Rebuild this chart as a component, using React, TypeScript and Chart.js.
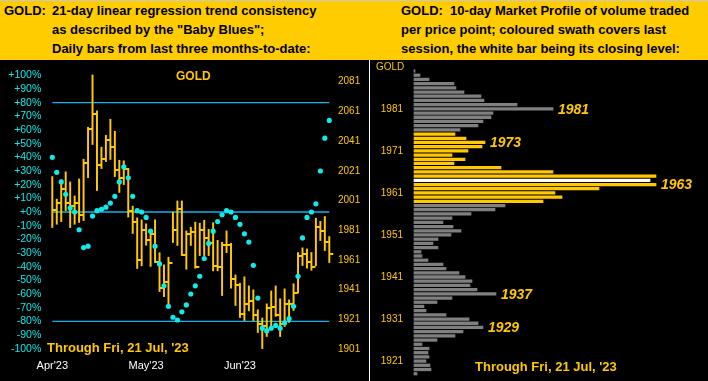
import React, { useEffect, useRef } from 'react';
import { Chart, registerables } from 'chart.js';

Chart.register(...registerables);

// ---------- Left panel data (daily HLC bars, last three months) ----------
const sessions = [
  '04-21', '04-24', '04-25', '04-26', '04-27', '04-28',
  '05-01', '05-02', '05-03', '05-04', '05-05', '05-08', '05-09', '05-10', '05-11', '05-12',
  '05-15', '05-16', '05-17', '05-18', '05-19', '05-22', '05-23', '05-24', '05-25', '05-26',
  '05-30', '05-31',
  '06-01', '06-02', '06-05', '06-06', '06-07', '06-08', '06-09', '06-12', '06-13', '06-14',
  '06-15', '06-16', '06-20', '06-21', '06-22', '06-23', '06-26', '06-27', '06-28', '06-29', '06-30',
  '07-03', '07-05', '07-06', '07-07', '07-10', '07-11', '07-12', '07-13', '07-14',
  '07-17', '07-18', '07-19', '07-20', '07-21',
];

const highs = [
  2017.1, 2001.9, 2014.9, 2020.3, 2013.5, 2004.1, 2015.5, 2028.8, 2050.3, 2085.5,
  2061.3, 2036.9, 2044.9, 2055.7, 2047.6, 2028.1, 2027.7, 2022.7, 1997.2, 1989.3,
  1988.0, 1985.3, 1981.2, 1988.0, 1965.8, 1957.7, 1962.8, 1993.1, 2000.7, 2000.7,
  1980.5, 1983.0, 1986.4, 1985.7, 1987.7, 1981.6, 1986.1, 1974.2, 1972.9, 1980.5,
  1972.2, 1950.9, 1945.3, 1949.6, 1943.5, 1940.8, 1927.4, 1921.9, 1931.4, 1940.1,
  1943.5, 1934.8, 1941.5, 1934.1, 1944.9, 1965.9, 1969.1, 1968.4, 1966.0, 1989.1,
  1987.0, 1990.2, 1976.7,
];

const lows = [
  1982.8, 1985.0, 1986.8, 1994.2, 1982.8, 1985.0, 1986.2, 1987.5, 2016.4, 2038.7,
  2007.7, 2022.5, 2027.2, 2028.6, 2017.1, 2006.4, 2011.7, 1989.8, 1978.8, 1955.2,
  1957.0, 1970.9, 1956.6, 1959.2, 1939.7, 1936.3, 1931.4, 1972.7, 1970.7, 1963.9,
  1954.7, 1970.7, 1955.4, 1963.9, 1963.9, 1963.9, 1953.6, 1953.6, 1937.0, 1965.9,
  1941.9, 1930.3, 1922.2, 1920.2, 1926.7, 1920.2, 1912.1, 1901.3, 1909.4, 1916.2,
  1922.9, 1909.4, 1916.2, 1918.9, 1926.9, 1938.6, 1957.2, 1955.4, 1954.0, 1957.0,
  1974.0, 1967.3, 1959.2,
];

const closes = [
  1994.7, 1999.6, 2008.6, 1999.6, 1997.6, 1999.6, 1991.5, 2026.5, 2049.2, 2059.1,
  2025.2, 2029.2, 2042.0, 2037.3, 2021.2, 2016.4, 2022.1, 1993.6, 1986.2, 1961.0,
  1980.8, 1974.1, 1978.1, 1959.7, 1942.4, 1946.4, 1959.2, 1981.2, 1995.6, 1964.6,
  1978.7, 1980.1, 1955.9, 1980.8, 1976.0, 1972.7, 1956.9, 1956.3, 1971.3, 1971.3,
  1948.4, 1944.4, 1924.9, 1931.0, 1933.6, 1924.2, 1917.5, 1916.8, 1928.3, 1929.6,
  1923.6, 1917.5, 1931.0, 1931.6, 1938.4, 1963.9, 1965.3, 1959.9, 1956.0, 1983.0,
  1980.7, 1972.9, 1964.8,
];

// "Baby Blues": 21-day linear regression trend consistency (%)
const babyBlues = [
  40, 29, 22, 13, 3, 0, -13, -26, -25, -3,
  1, 2, 3.5, 6.5, 11.5, 22, 33, 25, 11.5, 1,
  0, -4, -14, -25, -38, -54, -69, -77, -79, -73,
  -68, -60, -54, -47, -34, -23, -14, -7, -2, 1,
  0, -4, -9, -16, -22, -39, -63, -85, -87, -85,
  -83, -85, -81, -78, -69, -47, -19, -4, 0, 6,
  30, 54, 67,
];

const refLevels = [80, 0, -80];
const priceTicks = [1901, 1921, 1941, 1961, 1981, 2001, 2021, 2041, 2061, 2081];
const monthTickSessions = ['04-21', '05-22', '06-22'];
const monthTickText = ["Apr'23", "May'23", "Jun'23"];

// ---------- Right panel data (10-day market profile) ----------
const profilePrices = [
  1990, 1989, 1988, 1987, 1986, 1985, 1984, 1983, 1982, 1981,
  1980, 1979, 1978, 1977, 1976, 1975, 1974, 1973, 1972, 1971,
  1970, 1969, 1968, 1967, 1966, 1965, 1964, 1963, 1962, 1961,
  1960, 1959, 1958, 1957, 1956, 1955, 1954, 1953, 1952, 1951,
  1950, 1949, 1948, 1947, 1946, 1945, 1944, 1943, 1942, 1941,
  1940, 1939, 1938, 1937, 1936, 1935, 1934, 1933, 1932, 1931,
  1930, 1929, 1928, 1927, 1926, 1925, 1924, 1923, 1922, 1921,
  1920, 1919, 1918,
];
const profileVolume = [
  1, 6, 15, 40, 42, 50, 67, 70, 103, 139,
  79, 77, 69, 64, 46, 41, 52, 71, 68, 54,
  38, 51, 40, 87, 139, 242, 236, 242, 185, 141,
  148, 129, 91, 81, 57, 38, 29, 39, 47, 37,
  24, 19, 24, 7, 8, 14, 29, 32, 45, 51,
  58, 56, 63, 82, 38, 23, 10, 12, 32, 55,
  64, 69, 49, 41, 23, 8, 15, 14, 15, 12,
  16, 17, 3,
];
const swathLow = 1959;
const swathHigh = 1975;
const closeLevel = 1964;
const peakLevels = [1981, 1973, 1963, 1937, 1929];
const profileTicks = [1921, 1931, 1941, 1951, 1961, 1971, 1981];

// ---------- Styles ----------
const FONT = '"Liberation Sans", Arial, sans-serif';
const GOLD = '#FFC800';
const HEADER_GOLD = '#FFCC00';
const CYAN = '#10EAEA';
const LINE_BLUE = '#10B4F0';
const GREY = '#808080';

Chart.defaults.font.family = FONT;

const noGrid = { display: false, drawTicks: false, tickLength: 0 };

// Fix an axis' thickness and drop the label overhang padding so the chart area is exact.
const fixWidth = (w: number) => (s: any) => {
  s.width = w;
  s.paddingTop = 0;
  s.paddingBottom = 0;
};
const fixHeight = (h: number) => (s: any) => {
  s.height = h;
  s.paddingLeft = 0;
  s.paddingRight = 0;
};

function makeCloseTick(): HTMLCanvasElement {
  const c = document.createElement('canvas');
  c.width = 10;
  c.height = 2;
  const g = c.getContext('2d')!;
  g.fillStyle = GOLD;
  g.fillRect(5, 0, 4, 2);
  return c;
}

function LeftChart() {
  const ref = useRef<HTMLCanvasElement>(null);
  useEffect(() => {
    const tick = makeCloseTick();
    const chart = new Chart(ref.current!, {
      type: 'bar',
      data: {
        labels: sessions,
        datasets: [
          {
            type: 'line',
            data: babyBlues,
            yAxisID: 'yPct',
            showLine: false,
            pointRadius: 2.6,
            pointHoverRadius: 2.6,
            pointBackgroundColor: CYAN,
            pointBorderWidth: 0,
            clip: false,
            order: 0,
          } as any,
          {
            type: 'line',
            data: closes,
            yAxisID: 'yPrice',
            showLine: false,
            pointStyle: tick,
            pointRadius: 3,
            pointBorderWidth: 0,
            clip: false,
            order: 1,
          } as any,
          {
            type: 'bar',
            data: lows.map((l, i) => [l, highs[i]]),
            yAxisID: 'yPrice',
            backgroundColor: GOLD,
            barThickness: 1.3,
            clip: false,
            order: 2,
          } as any,
          ...refLevels.map(
            (v) =>
              ({
                type: 'line',
                data: sessions.map(() => v),
                yAxisID: 'yPct',
                borderColor: LINE_BLUE,
                borderWidth: 1.4,
                pointRadius: 0,
                clip: false,
                order: 3,
              } as any)
          ),
        ],
      },
      options: {
        responsive: false,
        animation: false,
        devicePixelRatio: 1,
        events: [],
        layout: { padding: { top: 15.3, bottom: 0, left: 0, right: 0 }, autoPadding: false },
        plugins: { legend: { display: false }, tooltip: { enabled: false } },
        scales: {
          x: {
            type: 'category',
            offset: false,
            grid: { ...noGrid, offset: false },
            border: { display: false },
            afterFit: fixHeight(32.3),
            ticks: {
              autoSkip: false,
              maxRotation: 0,
              minRotation: 0,
              padding: 10.4,
              color: '#FFFFFF',
              font: { size: 11 },
              callback: (_v: any, i: number) => {
                const k = monthTickSessions.indexOf(sessions[i]);
                return k >= 0 ? monthTickText[k] : '';
              },
            },
          },
          yPct: {
            position: 'left',
            min: -100,
            max: 100,
            grid: noGrid,
            border: { display: false },
            afterFit: fixWidth(52.3),
            ticks: {
              stepSize: 10,
              autoSkip: false,
              padding: 11,
              color: CYAN,
              font: { size: 10.5 },
              callback: (v: any) => (Number(v) >= 0 ? '+' : '') + v + '%',
            },
          },
          yPrice: {
            position: 'right',
            min: 1901.2,
            max: 2085.3,
            grid: noGrid,
            border: { display: false },
            afterFit: fixWidth(39.7),
            afterBuildTicks: (s: any) => {
              s.ticks = priceTicks.map((v) => ({ value: v }));
            },
            ticks: {
              autoSkip: false,
              padding: 8.7,
              color: GOLD,
              font: { size: 10 },
              callback: (v: any) => String(v),
            },
          },
        } as any,
      },
    });
    return () => chart.destroy();
  }, []);
  return <canvas ref={ref} width={369} height={321} style={{ display: 'block' }} />;
}

const peakLabelPlugin = {
  id: 'peakLabels',
  afterDatasetsDraw(chart: any) {
    const meta = chart.getDatasetMeta(0);
    const ctx = chart.ctx as CanvasRenderingContext2D;
    ctx.save();
    ctx.font = `italic bold 14px ${FONT}`;
    ctx.fillStyle = GOLD;
    ctx.textBaseline = 'middle';
    ctx.textAlign = 'left';
    peakLevels.forEach((p) => {
      const i = profilePrices.indexOf(p);
      const el = meta.data[i];
      if (el) ctx.fillText(String(p), el.x + 5, el.y + 1);
    });
    ctx.restore();
  },
};

function RightChart() {
  const ref = useRef<HTMLCanvasElement>(null);
  useEffect(() => {
    const chart = new Chart(ref.current!, {
      type: 'bar',
      data: {
        datasets: [
          {
            data: profilePrices.map((p, i) => ({ x: profileVolume[i], y: p })),
            backgroundColor: profilePrices.map((p) =>
              p === closeLevel ? '#FFFFFF' : p >= swathLow && p <= swathHigh ? GOLD : GREY
            ),
            barThickness: 2.6,
            clip: false,
          } as any,
        ],
      },
      options: {
        indexAxis: 'y',
        responsive: false,
        animation: false,
        devicePixelRatio: 1,
        events: [],
        layout: { padding: { top: 8.9, bottom: 5.2, left: 0, right: 0 }, autoPadding: false },
        plugins: { legend: { display: false }, tooltip: { enabled: false } },
        scales: {
          x: { type: 'linear', min: 0, max: 294, display: false, offset: false },
          y: {
            type: 'linear',
            min: 1917.5,
            max: 1990.5,
            offset: false,
            grid: { ...noGrid, offset: false },
            border: { display: false },
            afterFit: fixWidth(44),
            afterBuildTicks: (s: any) => {
              s.ticks = profileTicks.map((v) => ({ value: v }));
            },
            ticks: {
              autoSkip: false,
              padding: 11,
              color: GOLD,
              font: { size: 10 },
              callback: (v: any) => String(v),
            },
          },
        } as any,
      },
      plugins: [peakLabelPlugin],
    });
    return () => chart.destroy();
  }, []);
  return <canvas ref={ref} width={338} height={321} style={{ display: 'block' }} />;
}

const headerLine = (left: number, top: number): React.CSSProperties => ({
  position: 'absolute',
  left,
  top,
  fontFamily: FONT,
  fontWeight: 'bold',
  fontSize: 13,
  lineHeight: '13px',
  color: '#000',
  whiteSpace: 'pre',
});

const overlayText = (
  left: number,
  top: number,
  size: number,
  bold: boolean,
  lh: number
): React.CSSProperties => ({
  position: 'absolute',
  left,
  top,
  fontFamily: FONT,
  fontWeight: bold ? 'bold' : 'normal',
  fontSize: size,
  lineHeight: lh + 'px',
  color: GOLD,
  whiteSpace: 'pre',
});

export default function App() {
  const lineTops = [4.4, 23.4, 42.3];
  const leftLines = [
    '21-day linear regression trend consistency',
    'as described by the "Baby Blues";',
    'Daily bars from last three months-to-date:',
  ];
  const rightLines = [
    'GOLD:  10-day Market Profile of volume traded',
    'per price point; coloured swath covers last',
    'session, the white bar being its closing level:',
  ];
  return (
    <div
      style={{
        position: 'fixed',
        left: 0,
        top: 0,
        width: 708,
        height: 381,
        background: '#000',
        overflow: 'hidden',
        fontFamily: FONT,
      }}
    >
      <div style={{ position: 'absolute', left: 0, top: 0, width: 708, height: 60, background: HEADER_GOLD }} />
      <div style={{ position: 'absolute', left: 0, top: 0, width: 708, height: 1, background: '#C8C8C8' }} />
      <div style={headerLine(4, lineTops[0])}>GOLD:</div>
      {leftLines.map((t, i) => (
        <div key={'l' + i} style={headerLine(52, lineTops[i])}>
          {t}
        </div>
      ))}
      {rightLines.map((t, i) => (
        <div key={'r' + i} style={headerLine(401, lineTops[i])}>
          {t}
        </div>
      ))}

      <div style={{ position: 'absolute', left: 0, top: 60, width: 369, height: 321 }}>
        <LeftChart />
      </div>
      <div style={{ position: 'absolute', left: 369, top: 60, width: 1, height: 321, background: '#FFFFFF' }} />
      <div style={{ position: 'absolute', left: 370, top: 60, width: 338, height: 321 }}>
        <RightChart />
      </div>

      <div style={overlayText(176, 68.5, 12, true, 14)}>GOLD</div>
      <div style={overlayText(47, 340, 13, true, 16)}>Through Fri, 21 Jul, '23</div>
      <div style={overlayText(376, 60.7, 10, false, 12)}>GOLD</div>
      <div style={overlayText(475, 358.7, 13, true, 16)}>Through Fri, 21 Jul, '23</div>
    </div>
  );
}
